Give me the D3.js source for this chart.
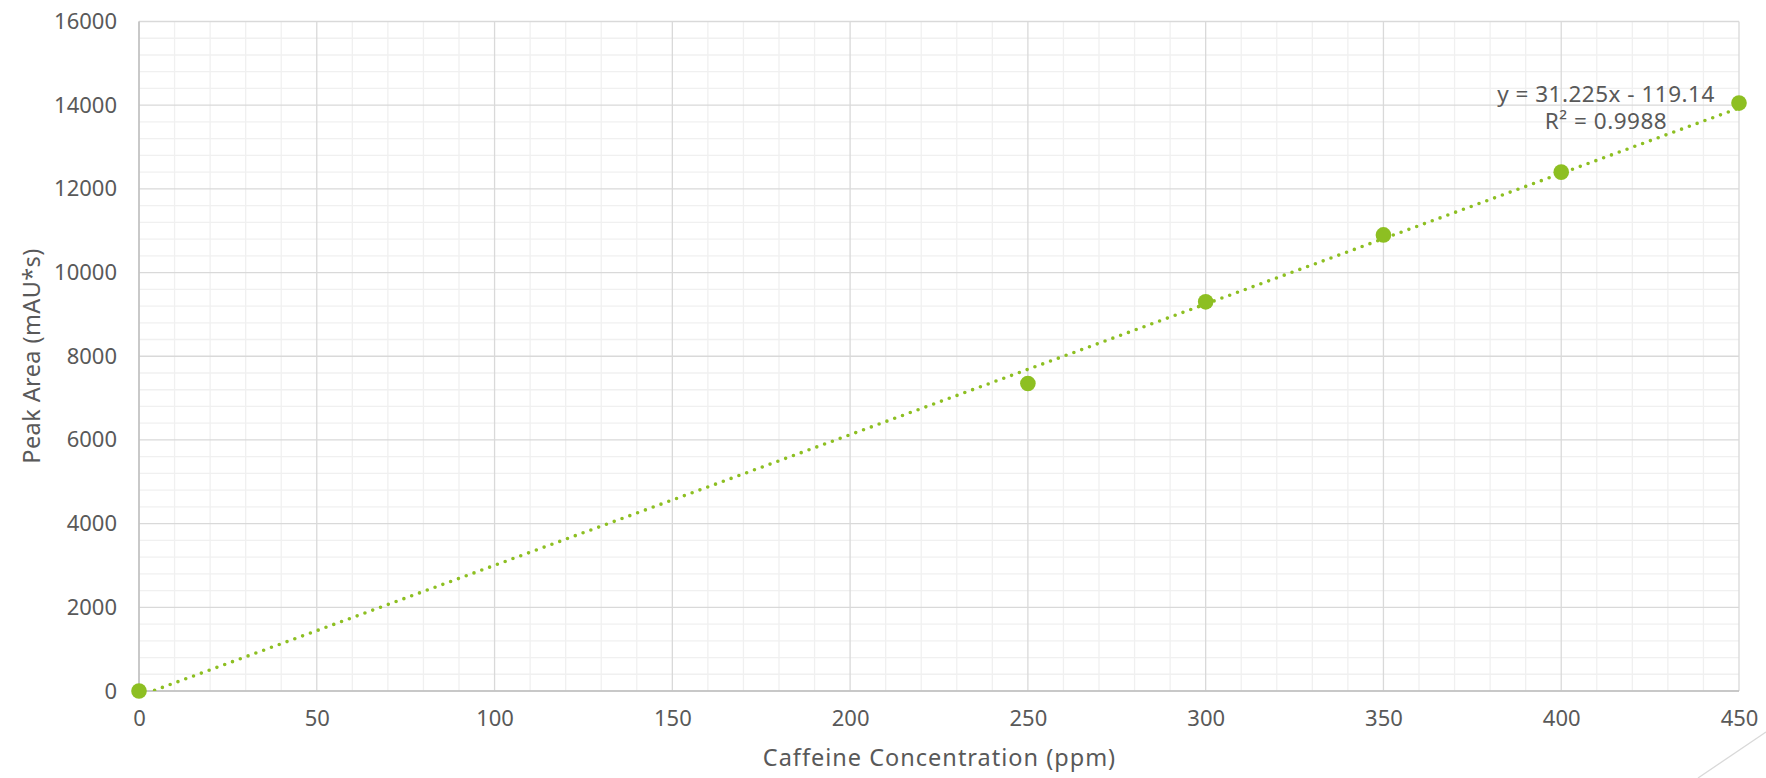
<!DOCTYPE html>
<html><head><meta charset="utf-8">
<script src="https://cdn.jsdelivr.net/npm/d3@7"></script>
<style>
html,body{margin:0;padding:0;background:#fff;}
svg text{font-family:"Noto Sans","Open Sans",sans-serif;fill:#595959;}
</style></head>
<body>
<svg id="chart" width="1766" height="778"></svg>
<script>
// Data
const concentration = [0, 250, 300, 350, 400, 450];
const peakArea = [0, 7350, 9300, 10900, 12400, 14050];
const xTicks = [0, 50, 100, 150, 200, 250, 300, 350, 400, 450];
const yTicks = [0, 2000, 4000, 6000, 8000, 10000, 12000, 14000, 16000];
const trendSlope = 31.225;
const trendIntercept = -119.14;
const equationLines = ["y = 31.225x - 119.14", "R² = 0.9988"];
const xTitle = "Caffeine Concentration (ppm)";
const yTitle = "Peak Area (mAU*s)";

(function () {
const svg = d3.select("#chart");
const pL = 139, pR = 1739, pT = 21.5, pB = 691;
const x = d3.scaleLinear().domain([0, 450]).range([pL, pR]);
const y = d3.scaleLinear().domain([0, 16000]).range([pB, pT]);
const green = "#8DBF22";
const font = "'Noto Sans', 'Open Sans', sans-serif";

// minor grid
const xMinor = d3.range(0, 451, 10).filter(v => v % 50 !== 0);
const yMinor = d3.range(0, 16001, 400).filter(v => v % 2000 !== 0);
const g = svg.append("g");
g.selectAll(".xm").data(xMinor).join("line")
  .attr("x1", d => x(d)).attr("x2", d => x(d)).attr("y1", pT).attr("y2", pB)
  .attr("stroke", "#F0F0F0").attr("stroke-width", 1.3);
g.selectAll(".ym").data(yMinor).join("line")
  .attr("y1", d => y(d)).attr("y2", d => y(d)).attr("x1", pL).attr("x2", pR)
  .attr("stroke", "#F0F0F0").attr("stroke-width", 1.3);
// major grid
g.selectAll(".xM").data(xTicks).join("line")
  .attr("x1", d => x(d)).attr("x2", d => x(d)).attr("y1", pT).attr("y2", pB)
  .attr("stroke", "#D9D9D9").attr("stroke-width", 1.3);
g.selectAll(".yM").data(yTicks).join("line")
  .attr("y1", d => y(d)).attr("y2", d => y(d)).attr("x1", pL).attr("x2", pR)
  .attr("stroke", "#D9D9D9").attr("stroke-width", 1.3);
// axes lines
g.append("line").attr("x1", pL).attr("x2", pL).attr("y1", pT).attr("y2", pB)
  .attr("stroke", "#BFBFBF").attr("stroke-width", 1.5);
g.append("line").attr("x1", pL).attr("x2", pR).attr("y1", pB).attr("y2", pB)
  .attr("stroke", "#BFBFBF").attr("stroke-width", 1.5);

// axes with d3
const xAxis = svg.append("g").attr("transform", `translate(0,${pB})`)
  .call(d3.axisBottom(x).tickValues(xTicks).tickSize(0).tickPadding(20).tickFormat(d3.format("d")));
const yAxis = svg.append("g").attr("transform", `translate(${pL},0)`)
  .call(d3.axisLeft(y).tickValues(yTicks).tickSize(0).tickPadding(22).tickFormat(d3.format("d")));
[xAxis, yAxis].forEach(a => {
  a.select(".domain").remove();
  a.selectAll("text").attr("font-size", 22).attr("fill", "#595959")
    .style("font-family", font);
});
xAxis.selectAll("text").attr("dy", "0.68em");

// clip
svg.append("clipPath").attr("id", "clip").append("rect")
  .attr("x", pL).attr("y", pT).attr("width", pR - pL).attr("height", pB - pT);

// trendline
const trend = [0, 450].map(v => [v, trendSlope * v + trendIntercept]);
svg.append("path").datum(trend)
  .attr("d", d3.line().x(d => x(d[0])).y(d => y(d[1])))
  .attr("clip-path", "url(#clip)")
  .attr("fill", "none").attr("stroke", green).attr("stroke-width", 3.6)
  .attr("stroke-linecap", "round").attr("stroke-dasharray", "0 8.3");

// points
svg.selectAll(".pt").data(concentration).join("circle")
  .attr("cx", d => x(d)).attr("cy", (d, i) => y(peakArea[i])).attr("r", 7.8)
  .attr("fill", green);

// equation
svg.selectAll(".eq").data(equationLines).join("text")
  .attr("x", 1606).attr("y", (d, i) => 101.5 + i * 27.5)
  .attr("text-anchor", "middle").attr("font-size", 22.5)
  .attr("letter-spacing", 0.5).text(d => d);

// titles
svg.append("text").attr("x", 939.5).attr("y", 766)
  .attr("text-anchor", "middle").attr("font-size", 23.5)
  .attr("letter-spacing", 1).text(xTitle);
svg.append("text").attr("transform", "translate(39.5,356) rotate(-90)")
  .attr("text-anchor", "middle").attr("font-size", 23.5)
  .attr("letter-spacing", 0.4).text(yTitle);

// corner artifact line
svg.append("line").attr("x1", 1698).attr("y1", 778).attr("x2", 1766).attr("y2", 732)
  .attr("stroke", "#D9D9D9").attr("stroke-width", 1.3);
})();
</script>
</body></html>
